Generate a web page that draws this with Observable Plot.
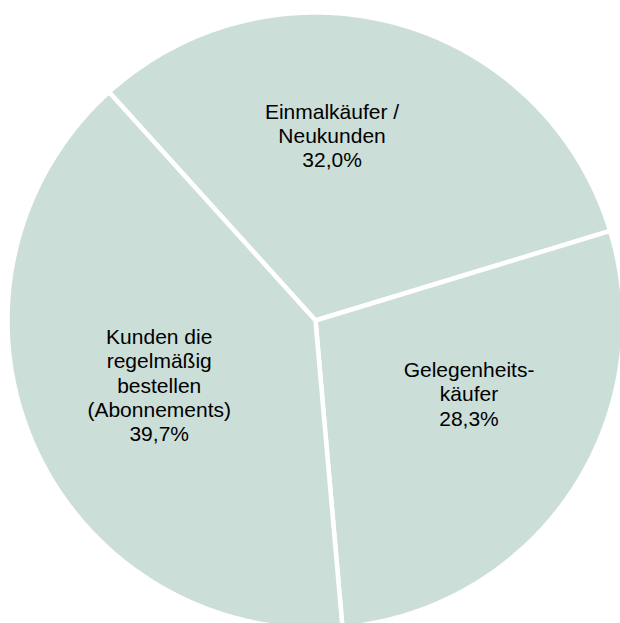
<!DOCTYPE html>
<html>
<head>
<meta charset="utf-8">
<script src="https://cdn.jsdelivr.net/npm/d3@7"></script>
<script src="https://cdn.jsdelivr.net/npm/@observablehq/plot@0.6"></script>
<style>
  html, body { margin: 0; padding: 0; background: #ffffff; }
  #chart svg { display: block; }
</style>
</head>
<body>
<div id="chart"></div>
<script>
// ---- Data ----
const categories = ["Einmalkäufer / Neukunden", "Gelegenheitskäufer", "Kunden die regelmäßig bestellen (Abonnements)"];
const labelLines = [
  ["Einmalkäufer /", "Neukunden"],
  ["Gelegenheits-", "käufer"],
  ["Kunden die", "regelmäßig", "bestellen", "(Abonnements)"]
];
const values = [32.0, 28.3, 39.7];

// ---- Layout / style ----
const W = 620, H = 623;
const cx = 315, cy = 320;           // pie centre in pixels
const R = 308;                       // outer radius (incl. half of white stroke)
const startAngle = -42.1;            // degrees, clockwise from 12 o'clock
const sliceColor = "#ccded8";
const labelPlacement = [             // angle shift (deg) from mid-angle, radius (px)
  {shift: -10.4, r: 186},
  {shift: -8.6, r: 170},
  {shift: 1.2, r: 169}
];

const total = d3.sum(values);
const rad = d => d * Math.PI / 180;

// slice outlines built from the values
const points = [];
const labels = [];
let a0 = startAngle;
values.forEach((v, i) => {
  const span = v / total * 360;
  const a1 = a0 + span;
  points.push({key: categories[i], x: 0, y: 0});
  const n = Math.max(2, Math.ceil(span / 0.5));
  for (let k = 0; k <= n; k++) {
    const a = rad(a0 + span * k / n);
    points.push({key: categories[i], x: R * Math.sin(a), y: R * Math.cos(a)});
  }
  points.push({key: categories[i], x: 0, y: 0});
  const mid = rad((a0 + a1) / 2 + labelPlacement[i].shift);
  const lr = labelPlacement[i].r;
  labels.push({
    x: lr * Math.sin(mid),
    y: lr * Math.cos(mid),
    text: [...labelLines[i], v.toFixed(1).replace(".", ",") + "%"].join("\n")
  });
  a0 = a1;
});

const chart = Plot.plot({
  width: W,
  height: H,
  margin: 0,
  style: {background: "#ffffff", fontFamily: "Arial, 'Liberation Sans', sans-serif"},
  x: {domain: [-cx, W - cx], range: [0, W], axis: null},
  y: {domain: [cy - H, cy], range: [H, 0], axis: null},
  marks: [
    Plot.line(points, {
      x: "x", y: "y", z: "key",
      fill: sliceColor,
      stroke: "#ffffff",
      strokeWidth: 4.5,
      strokeLinejoin: "miter",
      curve: "linear"
    }),
    Plot.text(labels, {
      x: "x", y: "y", text: "text",
      fontSize: 21,
      lineHeight: 1.16,
      fill: "#000000",
      textAnchor: "middle",
      fontFamily: "Arial, 'Liberation Sans', sans-serif"
    })
  ]
});

document.getElementById("chart").appendChild(chart);
</script>
</body>
</html>
